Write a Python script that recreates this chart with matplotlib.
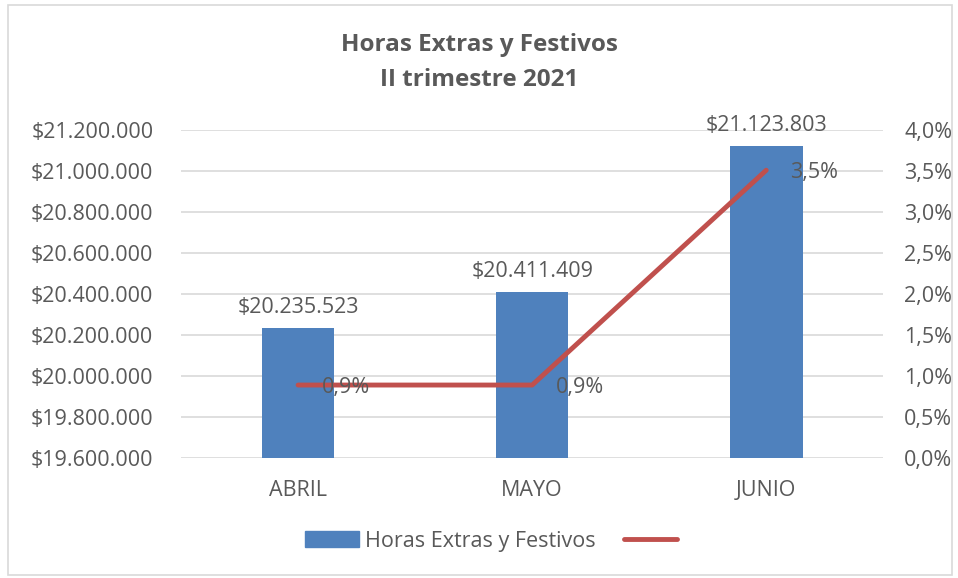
import matplotlib
matplotlib.use("Agg")
import matplotlib.pyplot as plt
from matplotlib.patches import Rectangle
from matplotlib.lines import Line2D
from matplotlib.ticker import FuncFormatter, MultipleLocator

months = ["ABRIL", "MAYO", "JUNIO"]
amounts = [20235523, 20411409, 21123803]
pct = [0.0089, 0.0089, 0.0351]
pct_labels = ["0,9%", "0,9%", "3,5%"]
series_name = "Horas Extras y Festivos"
title_lines = ["Horas Extras y Festivos", "II trimestre 2021"]

plt.rcParams['font.family'] = ['Open Sans', 'DejaVu Sans']
txt = "#595959"
blue = "#4F81BD"
red = "#C0504D"
fs = 15.5

fig = plt.figure(figsize=(9.58, 5.78), dpi=100)
fig.patch.set_facecolor("white")
fig.add_artist(Rectangle((0.008, 0.006), 0.986, 0.986, transform=fig.transFigure,
                         fill=False, edgecolor="#D9D9D9", linewidth=1.2))

ax = fig.add_axes([0.189, 0.2076, 0.733, 0.5674])
x = range(len(months))
ax.bar(x, amounts, width=0.31, color=blue, zorder=2)
ax.set_ylim(19600000, 21200000)
ax.set_xlim(-0.5, 2.5)
ax.yaxis.set_major_locator(MultipleLocator(200000))

def money(v, pos=None):
    return "$" + f"{int(round(v)):,}".replace(",", ".")

ax.yaxis.set_major_formatter(FuncFormatter(money))
ax.set_xticks(list(x))
ax.set_xticklabels(months)
ax.grid(axis="y", color="#D9D9D9", linewidth=1.2, zorder=0)
for s in ax.spines.values():
    s.set_visible(False)
ax.tick_params(axis="both", length=0, labelsize=fs, colors=txt)
ax.tick_params(axis="x", pad=16)
ax.tick_params(axis="y", pad=20)

for i, v in enumerate(amounts):
    ax.annotate(money(v), (i, v), xytext=(0, 7), textcoords="offset points",
                ha="center", va="bottom", fontsize=fs, color=txt)

ax2 = ax.twinx()
ax2.set_ylim(0, 0.04)
ax2.yaxis.set_major_locator(MultipleLocator(0.005))
ax2.yaxis.set_major_formatter(FuncFormatter(lambda v, p: f"{v*100:.1f}%".replace(".", ",")))
ax2.plot(list(x), pct, color=red, linewidth=3.5, solid_capstyle="round", zorder=3)
for s in ax2.spines.values():
    s.set_visible(False)
ax2.tick_params(axis="y", length=0, labelsize=fs, colors=txt, pad=15)
for i, v in enumerate(pct):
    ax2.annotate(pct_labels[i], (i, v), xytext=(17, -1.5), textcoords="offset points",
                 ha="left", va="center", fontsize=fs, color=txt)

fig.text(0.5, 0.922, title_lines[0], ha="center", va="center", fontsize=17.5,
         fontweight="bold", color=txt)
fig.text(0.5, 0.862, title_lines[1], ha="center", va="center", fontsize=17.5,
         fontweight="bold", color=txt)

handles = [Rectangle((0, 0), 1, 1, color=blue),
           Line2D([0], [0], color=red, linewidth=3.5, solid_capstyle="round")]
fig.legend(handles, [series_name, ""], loc="center", bbox_to_anchor=(0.516, 0.064), ncol=2,
           frameon=False, fontsize=fs, labelcolor=txt, handlelength=2.5, handleheight=0.8,
           columnspacing=1.3, handletextpad=0.3)

fig.savefig("out.png", dpi=100, facecolor="white")
